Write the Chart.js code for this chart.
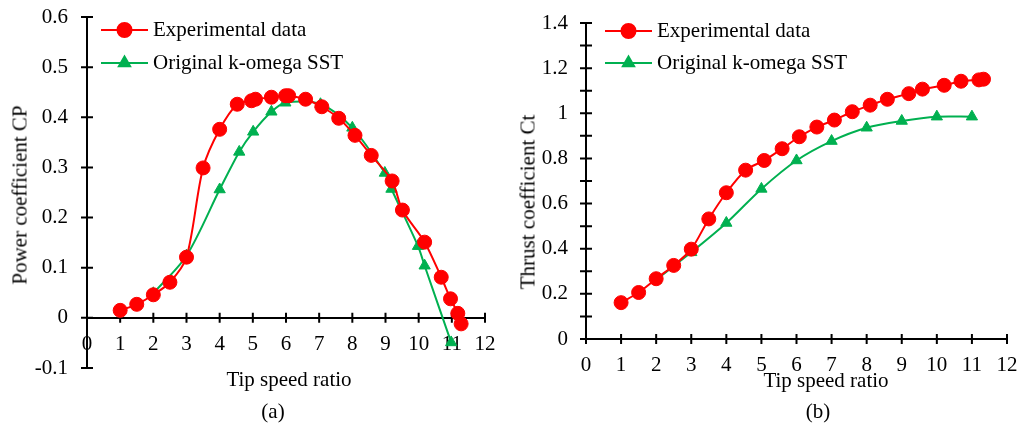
<!DOCTYPE html>
<html><head><meta charset="utf-8">
<script src="https://cdn.jsdelivr.net/npm/chart.js@4.4.1/dist/chart.umd.min.js"></script>
<style>
body{margin:0;background:#fff;width:1021px;height:424px;overflow:hidden;position:relative;font-family:"Liberation Serif","Times New Roman",serif;}
.c{position:absolute;top:0;height:424px;}
.t{position:absolute;font-size:21px;color:#000;white-space:nowrap;line-height:1;transform:translate(-50%,-50%);}
.rot{transform:translate(-50%,-50%) rotate(-90deg);}
</style></head><body>
<div class="c" style="left:0;width:500px"><canvas id="ca"></canvas></div>
<div class="c" style="left:500px;width:521px"><canvas id="cb"></canvas></div>
<div class="t rot" style="left:20px;top:195px">Power coefficient CP</div>
<div class="t" style="left:289px;top:379px">Tip speed ratio</div>
<div class="t" style="left:273px;top:411px">(a)</div>
<div class="t rot" style="left:528px;top:202px">Thrust coefficient Ct</div>
<div class="t" style="left:826px;top:380px">Tip speed ratio</div>
<div class="t" style="left:818px;top:411px">(b)</div>
<script>
// ---- data ----
const seriesNames = ['Experimental data', 'Original k-omega SST'];
const xTicks = [0,1,2,3,4,5,6,7,8,9,10,11,12];
const cpTicks = [-0.1,0,0.1,0.2,0.3,0.4,0.5,0.6];
const ctTicks = [0,0.2,0.4,0.6,0.8,1,1.2,1.4];

const tsrExpA = [1,1.5,2,2.5,3,3.5,4,4.53,4.96,5.08,5.56,5.99,6.08,6.59,7.08,7.59,8.08,8.57,9.2,9.51,10.18,10.68,10.96,11.18,11.28];
const cpExp   = [0.015,0.027,0.046,0.071,0.121,0.299,0.376,0.426,0.433,0.436,0.440,0.443,0.443,0.436,0.421,0.398,0.364,0.324,0.273,0.215,0.151,0.081,0.038,0.009,-0.012];
const tsrSstA = [2,3,4,4.59,5.01,5.56,5.98,7.04,8,8.98,9.18,9.98,10.18,10.98];
const cpSst   = [0.049,0.124,0.256,0.331,0.371,0.411,0.429,0.426,0.379,0.289,0.257,0.143,0.104,-0.049];

const tsrExpB = [1,1.5,2,2.5,3,3.5,4,4.55,5.08,5.59,6.08,6.58,7.08,7.59,8.1,8.59,9.2,9.59,10.21,10.69,11.2,11.33];
const ctExp   = [0.161,0.206,0.267,0.326,0.398,0.532,0.648,0.748,0.791,0.843,0.896,0.939,0.970,1.007,1.036,1.062,1.087,1.107,1.124,1.142,1.148,1.151];
const tsrSstB = [2,3,4,5,6,7,8,9,10,11];
const ctSst   = [0.262,0.384,0.514,0.665,0.791,0.877,0.936,0.966,0.985,0.985];

const RED = '#FF0000', GREEN = '#00B050';
const FONT = '"Liberation Serif","Times New Roman",serif';
Chart.defaults.font.family = FONT;
Chart.defaults.font.size = 21;
Chart.defaults.color = '#000';

const pts = (xs, ys) => xs.map((x, i) => ({x, y: ys[i]}));
const fmt = v => String(Math.round(v * 10) / 10);

const crossTicks = {
  id: 'crossTicks',
  beforeDatasetsDraw(chart, args, o) {
    const ctx = chart.ctx, xs = chart.scales.x, ys = chart.scales.y;
    const yPix = ys.getPixelForValue(o.xAt), xPix = xs.getPixelForValue(0);
    ctx.save(); ctx.strokeStyle = '#000'; ctx.lineWidth = 2; ctx.beginPath();
    xs.ticks.forEach(t => { const p = xs.getPixelForValue(t.value); ctx.moveTo(p, yPix - 5); ctx.lineTo(p, yPix + 5); });
    ys.ticks.forEach(t => { const p = ys.getPixelForValue(t.value); ctx.moveTo(xPix - 6, p); ctx.lineTo(xPix + 6, p); });
    ctx.stroke(); ctx.restore();
  }
};
const legendPlug = {
  id: 'legendPlug',
  afterDraw(chart, args, o) {
    const ctx = chart.ctx;
    chart.data.datasets.forEach((ds, i) => {
      const y = o.y0 + i * o.dy;
      ctx.save();
      ctx.strokeStyle = ds.borderColor; ctx.lineWidth = 2;
      ctx.beginPath(); ctx.moveTo(o.x0, y); ctx.lineTo(o.x1, y); ctx.stroke();
      ctx.fillStyle = ds.pointBackgroundColor; ctx.strokeStyle = ds.pointBorderColor;
      Chart.helpers.drawPoint(ctx, {pointStyle: ds.pointStyle, radius: ds.pointRadius, rotation: 0, borderWidth: 1}, (o.x0 + o.x1) / 2, y);
      ctx.fillStyle = '#000'; ctx.font = '21px ' + FONT; ctx.textBaseline = 'middle'; ctx.textAlign = 'left';
      ctx.fillText(ds.label, o.tx, y);
      ctx.restore();
    });
  }
};

function mkDs(label, data, color, style, r) {
  return {label, data, borderColor: color, backgroundColor: color, pointBackgroundColor: color,
    pointBorderColor: color, pointStyle: style, pointRadius: r, pointBorderWidth: 1,
    borderWidth: 2, tension: 0.3, clip: false, showLine: true};
}

function mkChart(id, cfg) {
  return new Chart(document.getElementById(id), {
    type: 'scatter',
    data: {datasets: [
      mkDs(seriesNames[0], cfg.exp, RED, 'circle', 7),
      mkDs(seriesNames[1], cfg.sst, GREEN, 'triangle', 6.5)
    ]},
    options: {
      responsive: true, maintainAspectRatio: false, animation: false, events: [],
      layout: {padding: cfg.pad},
      plugins: {legend: {display: false}, tooltip: {enabled: false},
        crossTicks: {xAt: cfg.xAt}, legendPlug: cfg.leg},
      scales: {
        x: {type: 'linear', min: 0, max: 12, position: cfg.xPos,
          afterBuildTicks: s => { s.ticks = xTicks.map(v => ({value: v})); },
          afterFit: s => { s.height = cfg.xH; s.paddingLeft = 0; s.paddingRight = 0; s.paddingTop = 0; s.paddingBottom = 0; },
          grid: {display: false, drawTicks: false},
          border: {display: true, color: '#000', width: 2},
          ticks: {padding: cfg.xPad, maxRotation: 0, autoSkip: false, callback: v => fmt(v)}},
        y: {type: 'linear', min: cfg.yMin, max: cfg.yMax, position: 'left',
          afterBuildTicks: s => { s.ticks = cfg.yAll.map(v => ({value: v})); },
          afterFit: s => { s.width = cfg.yW; s.paddingTop = 0; s.paddingBottom = 0; s.paddingLeft = 0; s.paddingRight = 0; },
          grid: {display: false, drawTicks: false},
          border: {display: true, color: '#000', width: 2},
          ticks: {padding: cfg.yPad, autoSkip: false,
            callback: v => cfg.yLab.some(l => Math.abs(l - v) < 1e-6) ? fmt(v) : ''}}
      }
    },
    plugins: [crossTicks, legendPlug]
  });
}

mkChart('ca', {
  exp: pts(tsrExpA, cpExp), sst: pts(tsrSstA, cpSst),
  pad: {left: 0, top: 17, right: 15, bottom: 56},
  xPos: {y: 0}, xH: 0, xAt: 0, xPad: 14, yMin: -0.1, yMax: 0.6, yAll: cpTicks, yLab: cpTicks, yW: 87, yPad: 19,
  leg: {x0: 101, x1: 148, y0: 30, dy: 33, tx: 153}
});
const ctAll = [];
for (let i = 0; i <= 14; i++) ctAll.push(i / 10);
mkChart('cb', {
  exp: pts(tsrExpB, ctExp), sst: pts(tsrSstB, ctSst),
  pad: {left: 0, top: 23, right: 14, bottom: 0},
  xPos: 'bottom', xH: 85, xAt: 0, xPad: 14, yMin: 0, yMax: 1.4, yAll: ctAll, yLab: ctTicks, yW: 86, yPad: 18,
  leg: {x0: 105, x1: 152, y0: 31, dy: 32, tx: 157}
});
</script>
</body></html>
